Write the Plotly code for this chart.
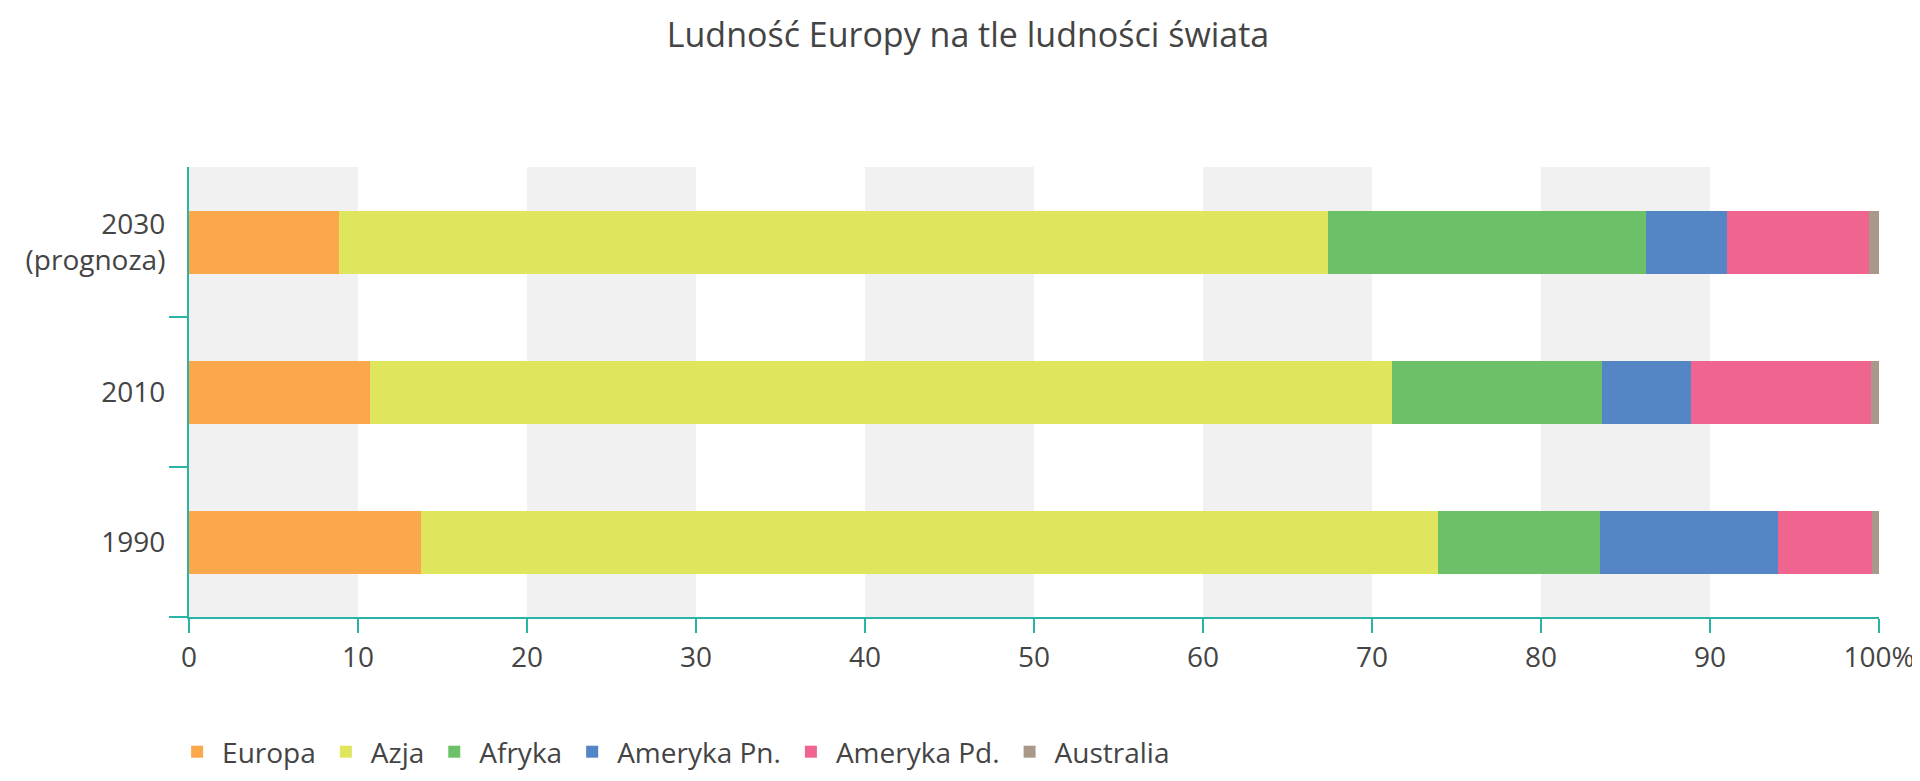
import plotly.graph_objects as go

years = ["1990", "2010", "2030<br>(prognoza)"]
regions = ["Europa", "Azja", "Afryka", "Ameryka Pn.", "Ameryka Pd.", "Australia"]
colors = ["#fba74c", "#dfe55c", "#6cc067", "#5486c6", "#f06590", "#a8998a"]
europa = [13.7, 10.7, 8.9]
azja = [60.2, 60.5, 58.5]
afryka = [9.6, 12.4, 18.8]
ameryka_pn = [10.5, 5.3, 4.8]
ameryka_pd = [5.6, 10.6, 8.4]
australia = [0.4, 0.5, 0.6]
series = [europa, azja, afryka, ameryka_pn, ameryka_pd, australia]
x_ticks = [0, 10, 20, 30, 40, 50, 60, 70, 80, 90, 100]
x_ticktext = ["0", "10", "20", "30", "40", "50", "60", "70", "80", "90", "100%"]
bands = [(0, 10), (20, 30), (40, 50), (60, 70), (80, 90)]

fig = go.Figure()
for name, vals, c in zip(regions, series, colors):
    fig.add_trace(go.Bar(y=list(range(len(years))), x=vals, name=name, orientation="h",
                         marker=dict(color=c, line=dict(width=0))))

shapes = [dict(type="rect", xref="x", yref="paper", x0=a, x1=b, y0=0, y1=1,
               fillcolor="#f0f1f0", line=dict(width=0), layer="below") for a, b in bands]

teal = "#2bb3a5"
fig.update_layout(
    barmode="stack", bargap=0.58, shapes=shapes,
    width=1920, height=781,
    paper_bgcolor="white", plot_bgcolor="white",
    font=dict(family="Open Sans", size=28, color="#444"),
    title=dict(text="Ludność Europy na tle ludności świata", x=0.5, xanchor="center",
               y=0.965, yanchor="middle", font=dict(size=34, color="#444")),
    margin=dict(l=181, r=49, t=159, b=169),
    xaxis=dict(range=[0, 100], tickvals=x_ticks, ticktext=x_ticktext, showgrid=False,
               showline=True, linecolor=teal, linewidth=2, ticks="outside", ticklen=14,
               tickcolor=teal, tickwidth=2, zeroline=False),
    yaxis=dict(range=[-0.5, 2.5], tickvals=[0, 1, 2], ticktext=years, showgrid=False,
               showline=True, linecolor=teal, linewidth=2, ticks="", ticklabelstandoff=16,
               zeroline=False,
               minor=dict(tickvals=[-0.5, 0.5, 1.5], ticks="outside", ticklen=18,
                          tickcolor=teal, tickwidth=2)),
    legend=dict(orientation="h", x=-0.01, xanchor="left", y=-0.3, yanchor="middle",
                font=dict(size=28), itemwidth=40, traceorder="normal"),
)
fig.write_html("out.html")
